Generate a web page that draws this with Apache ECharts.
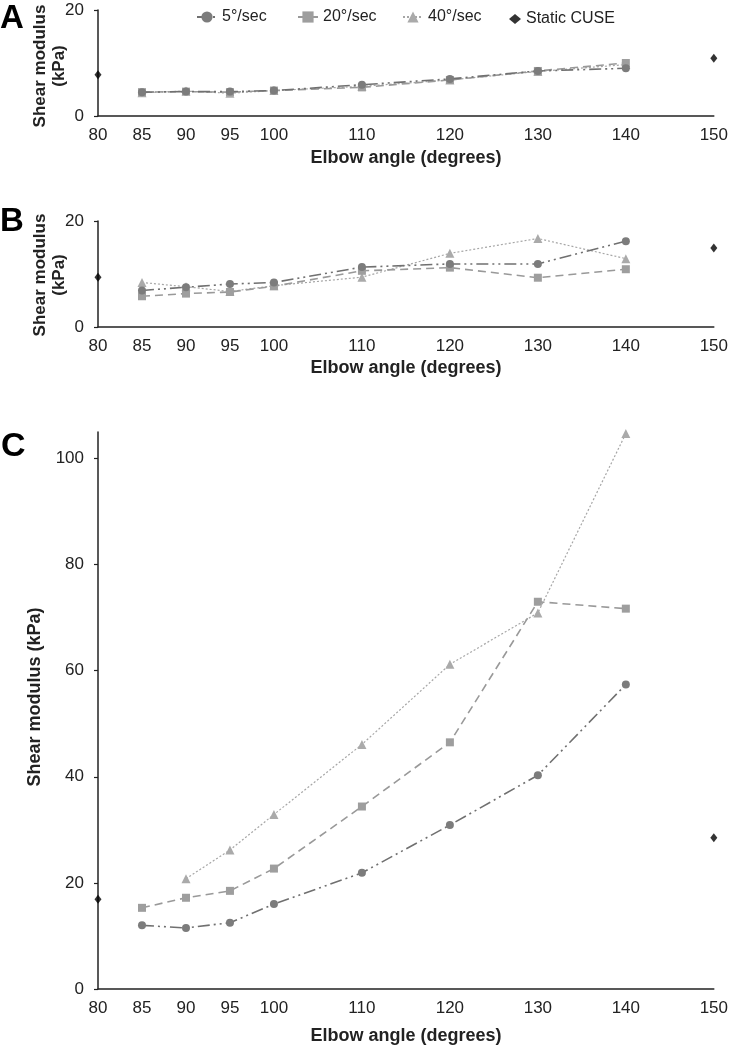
<!DOCTYPE html>
<html>
<head>
<meta charset="utf-8">
<script src="https://cdn.jsdelivr.net/npm/echarts@6/dist/echarts.min.js"></script>
<style>
html,body{margin:0;padding:0;background:#fff;}
#chart{width:731px;height:1050px;}
</style>
</head>
<body>
<div id="chart"></div>
<script>
// ---- data ----
var angles = [85, 90, 95, 100, 110, 120, 130, 140];
var staticAngles = [80, 150];
var xTickLabels = [80, 85, 90, 95, 100, 110, 120, 130, 140, 150];
var yTicksAB = [0, 20];
var yTicksC = [0, 20, 40, 60, 80, 100];
var seriesNames = ['5°/sec', '20°/sec', '40°/sec', 'Static CUSE'];

// Panel A
var a5  = [4.5, 4.6, 4.6, 4.8, 5.9, 7.0, 8.5, 9.0];
var a20 = [4.5, 4.6, 4.5, 4.8, 5.4, 6.8, 8.5, 10.0];
var a40 = [4.4, 4.7, 4.3, 4.8, 5.6, 6.8, 8.4, 9.7];
var aStatic = [7.8, 10.9];
// Panel B
var b5  = [6.9, 7.5, 8.1, 8.4, 11.3, 11.9, 11.9, 16.2];
var b20 = [5.8, 6.3, 6.6, 7.7, 10.6, 11.2, 9.3, 10.9];
var b40 = [8.4, 7.6, 6.7, 7.8, 9.4, 13.9, 16.7, 12.9];
var bStatic = [9.4, 14.9];
// Panel C
var c5  = [12.0, 11.5, 12.5, 16.0, 21.9, 30.9, 40.3, 57.4];
var c20 = [15.3, 17.2, 18.5, 22.7, 34.4, 46.5, 73.0, 71.7];
var c40 = [null, 20.8, 26.2, 32.9, 46.1, 61.2, 70.9, 104.7];
var cStatic = [16.9, 28.5];

// ---- helpers ----
function pairs(xs, ys) {
  var out = [];
  for (var i = 0; i < xs.length; i++) if (ys[i] !== null) out.push([xs[i], ys[i]]);
  return out;
}
var FONT = 'Liberation Sans, Arial, sans-serif';
var axisColor = '#222';

var styles = [
  {symbol: 'circle', size: 8, color: '#7c7c7c', line: {color: '#707070', width: 1.6, type: [12, 4, 2, 4, 2, 4]}},
  {symbol: 'rect', size: 8, color: '#9e9e9e', line: {color: '#999999', width: 1.6, type: [8, 5]}},
  {symbol: 'triangle', size: 9, color: '#aaaaaa', line: {color: '#a6a6a6', width: 1.2, type: [2, 2]}}
];

var panels = [
  {top: 10, height: 106, max: 20, ticks: yTicksAB, d: [a5, a20, a40], s: aStatic, gap: 33},
  {top: 221, height: 106, max: 20, ticks: yTicksAB, d: [b5, b20, b40], s: bStatic, gap: 32},
  {top: 432, height: 560, max: 105, ticks: yTicksC, d: [c5, c20, c40], s: cStatic, gap: 38}
];

var grids = [], xAxes = [], yAxes = [], series = [];
panels.forEach(function (p, i) {
  grids.push({left: 98, right: 15, top: p.top, height: p.height});
  xAxes.push({
    type: 'value', gridIndex: i, min: 80, max: 150, interval: 5,
    name: 'Elbow angle (degrees)', nameLocation: 'middle', nameGap: p.gap,
    nameTextStyle: {fontFamily: FONT, fontSize: 18, fontWeight: 'bold', color: '#222'},
    axisLine: {lineStyle: {color: axisColor, width: 1.5}},
    axisTick: {show: false},
    splitLine: {show: false},
    axisLabel: {
      fontFamily: FONT, fontSize: 17, color: '#222', margin: 11,
      showMinLabel: true, showMaxLabel: true,
      formatter: function (v) { return xTickLabels.indexOf(v) >= 0 ? String(v) : ''; }
    }
  });
  yAxes.push({
    type: 'value', gridIndex: i, min: 0, max: p.max, interval: 20,
    axisLine: {show: true, lineStyle: {color: axisColor, width: 1.5}},
    axisTick: {show: true, length: 4, lineStyle: {color: axisColor, width: 1.2}},
    splitLine: {show: false},
    axisLabel: {
      fontFamily: FONT, fontSize: 17, color: '#222', margin: 14,
      showMaxLabel: p.max === 20,
      formatter: function (v) { return p.ticks.indexOf(v) >= 0 ? String(v) : ''; }
    }
  });
  p.d.forEach(function (vals, k) {
    var st = styles[k];
    series.push({
      type: 'line', name: seriesNames[k], xAxisIndex: i, yAxisIndex: i,
      data: pairs(angles, vals),
      symbol: st.symbol, symbolSize: st.size,
      itemStyle: {color: st.color},
      lineStyle: st.line,
      emphasis: {disabled: true},
      animation: false, z: 3 - k + 2
    });
  });
  series.push({
    type: 'scatter', name: seriesNames[3], xAxisIndex: i, yAxisIndex: i,
    data: pairs(staticAngles, p.s),
    symbol: 'diamond', symbolSize: [7, 9],
    itemStyle: {color: '#000'}, animation: false, z: 6
  });
});

var legendBase = {
  top: 4, itemWidth: 20, itemHeight: 14, orient: 'horizontal',
  textStyle: {fontFamily: FONT, fontSize: 16, color: '#222'}
};
function mkLegend(name, left, extra) {
  return Object.assign({}, legendBase, {left: left, data: [name]}, extra || {});
}

var option = {
  backgroundColor: '#fff',
  animation: false,
  grid: grids,
  xAxis: xAxes,
  yAxis: yAxes,
  legend: [
    mkLegend(seriesNames[0], 191),
    mkLegend(seriesNames[1], 292),
    mkLegend(seriesNames[2], 397),
    mkLegend(seriesNames[3], 504, {itemWidth: 12, itemHeight: 10, top: 6})
  ],
  graphic: [
    {type: 'text', left: 0, top: 2, style: {text: 'A', font: 'bold 33px ' + FONT, fill: '#000'}},
    {type: 'text', left: 0, top: 205, style: {text: 'B', font: 'bold 33px ' + FONT, fill: '#000'}},
    {type: 'text', left: 1, top: 430, style: {text: 'C', font: 'bold 34px ' + FONT, fill: '#000'}},
    {type: 'text', x: 40, y: 66, rotation: Math.PI / 2,
     style: {text: 'Shear modulus', font: 'bold 17px ' + FONT, fill: '#222', align: 'center', verticalAlign: 'middle'}},
    {type: 'text', x: 59, y: 66, rotation: Math.PI / 2,
     style: {text: '(kPa)', font: 'bold 17px ' + FONT, fill: '#222', align: 'center', verticalAlign: 'middle'}},
    {type: 'text', x: 40, y: 275, rotation: Math.PI / 2,
     style: {text: 'Shear modulus', font: 'bold 17px ' + FONT, fill: '#222', align: 'center', verticalAlign: 'middle'}},
    {type: 'text', x: 59, y: 275, rotation: Math.PI / 2,
     style: {text: '(kPa)', font: 'bold 17px ' + FONT, fill: '#222', align: 'center', verticalAlign: 'middle'}},
    {type: 'text', x: 35, y: 697, rotation: Math.PI / 2,
     style: {text: 'Shear modulus (kPa)', font: 'bold 18px ' + FONT, fill: '#222', align: 'center', verticalAlign: 'middle'}}
  ],
  series: series
};

var chart = echarts.init(document.getElementById('chart'), null, {renderer: 'canvas'});
chart.setOption(option);
</script>
</body>
</html>
